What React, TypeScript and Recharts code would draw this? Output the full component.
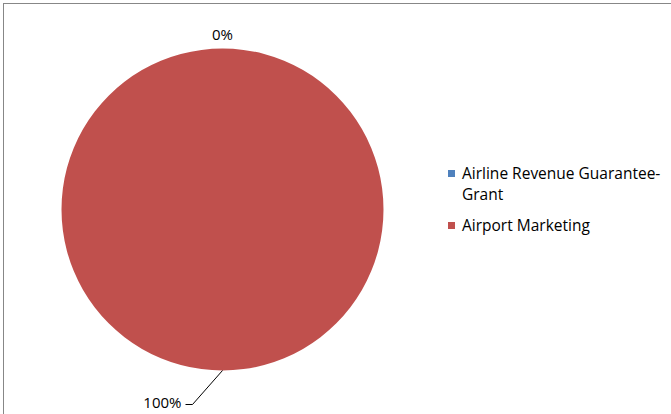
import React from "react";
import { PieChart, Pie, Cell, Legend } from "recharts";

// catégories et valeurs
const categories = ["Airline Revenue Guarantee-Grant", "Airport Marketing"];
const values = [0, 100];
const colors = ["#4F81BD", "#C0504D"];

const chartData = categories.map((name, i) => ({ name, value: values[i] }));

const FONT = "'Open Sans', sans-serif";
const RAD = Math.PI / 180;

// étiquette de pourcentage, avec trait de rappel pour la grande part
const renderLabel = (props: any) => {
  const { cx, cy, outerRadius, midAngle, percent } = props;
  const pct = `${Math.round(percent * 100)}%`;
  const px = cx + outerRadius * Math.cos(-midAngle * RAD);
  const py = cy + outerRadius * Math.sin(-midAngle * RAD);

  if (percent === 0) {
    return (
      <text
        x={px}
        y={py - 15}
        textAnchor="middle"
        dominantBaseline="central"
        fontFamily={FONT}
        fontSize={15}
        fill="#000"
      >
        {pct}
      </text>
    );
  }

  const ex = px - 30;
  const ey = py + 34;
  return (
    <g>
      <polyline
        points={`${px},${py} ${ex},${ey} ${ex - 7},${ey}`}
        fill="none"
        stroke="#000"
        strokeWidth={1}
      />
      <text
        x={ex - 11}
        y={ey - 3}
        textAnchor="end"
        dominantBaseline="central"
        fontFamily={FONT}
        fontSize={15}
        fill="#000"
      >
        {pct}
      </text>
    </g>
  );
};

const renderLegend = (props: any) => {
  const { payload } = props;
  return (
    <div style={{ fontFamily: FONT, fontSize: 15.5, color: "#000", width: 218 }}>
      {payload.map((entry: any, i: number) => (
        <div
          key={i}
          style={{
            display: "flex",
            alignItems: "flex-start",
            lineHeight: "21px",
            marginBottom: 10,
          }}
        >
          <span
            style={{
              display: "inline-block",
              width: 7,
              height: 7,
              background: entry.color,
              marginTop: 7,
              marginRight: 7,
              flexShrink: 0,
            }}
          />
          <span>{entry.value}</span>
        </div>
      ))}
    </div>
  );
};

export default function App() {
  return (
    <div
      style={{
        position: "absolute",
        left: 0,
        top: 0,
        width: 671,
        height: 414,
        overflow: "hidden",
        background: "#fff",
      }}
    >
      <div
        style={{
          position: "absolute",
          left: 3,
          top: 3,
          width: 700,
          height: 450,
          borderTop: "1px solid #878787",
          borderLeft: "1px solid #878787",
        }}
      />
      <PieChart
        width={671}
        height={414}
        margin={{ top: 0, right: 0, bottom: 0, left: 0 }}
        style={{ position: "absolute", left: 0, top: 0 }}
      >
        <Pie
          data={chartData}
          dataKey="value"
          nameKey="name"
          cx={222.5}
          cy={209.5}
          outerRadius={161}
          startAngle={90}
          endAngle={-270}
          stroke="none"
          label={renderLabel}
          labelLine={false}
          isAnimationActive={false}
        >
          {chartData.map((_, i) => (
            <Cell key={i} fill={colors[i]} />
          ))}
        </Pie>
        <Legend
          layout="vertical"
          align="right"
          verticalAlign="top"
          content={renderLegend}
          wrapperStyle={{ position: "absolute", left: 448, top: 163, width: 222 }}
        />
      </PieChart>
    </div>
  );
}
